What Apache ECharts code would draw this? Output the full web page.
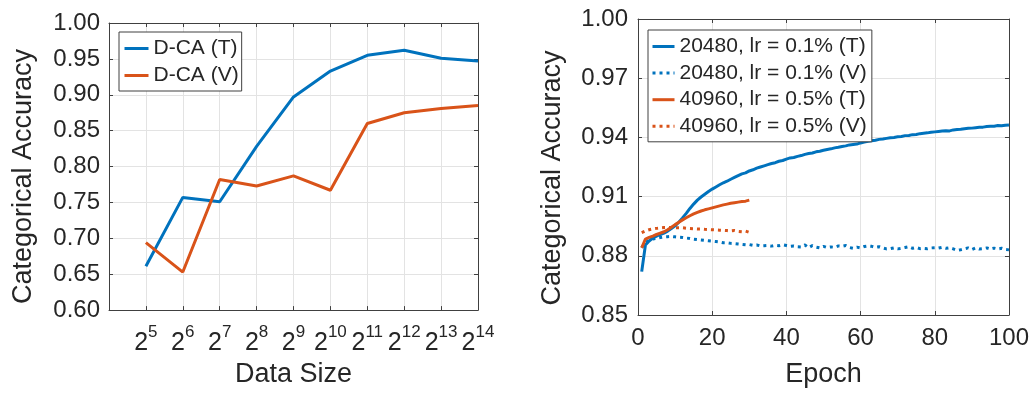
<!DOCTYPE html>
<html>
<head>
<meta charset="utf-8">
<script src="https://cdn.jsdelivr.net/npm/echarts@6/dist/echarts.min.js"></script>
<style>
html,body{margin:0;padding:0;background:#fff;}
#chart{width:1032px;height:393px;}
</style>
</head>
<body>
<div id="chart"></div>
<script>
// ---- Left panel data ----
const sizeExponents = [5, 6, 7, 8, 9, 10, 11, 12, 13, 14];
const dcaTrain = [0.661, 0.757, 0.751, 0.828, 0.897, 0.933, 0.955, 0.962, 0.951, 0.947];
const dcaValid = [0.694, 0.653, 0.782, 0.773, 0.787, 0.767, 0.860, 0.875, 0.881, 0.885];
const leftYTicks = [0.60, 0.65, 0.70, 0.75, 0.80, 0.85, 0.90, 0.95, 1.00];

// ---- Right panel data (epoch 1..N) ----
const run20480Train = [
  0.8720, 0.8855, 0.8875, 0.8890, 0.8900, 0.8908, 0.8915, 0.8925, 0.8938, 0.8952,
  0.8970, 0.8992, 0.9015, 0.9040, 0.9062, 0.9082, 0.9098, 0.9112, 0.9126, 0.9138,
  0.9149, 0.9160, 0.9170, 0.9178, 0.9188, 0.9197, 0.9206, 0.9215, 0.9220, 0.9230,
  0.9236, 0.9244, 0.9250, 0.9256, 0.9262, 0.9268, 0.9272, 0.9279, 0.9283, 0.9290,
  0.9296, 0.9298, 0.9304, 0.9308, 0.9314, 0.9318, 0.9321, 0.9327, 0.9330, 0.9335,
  0.9339, 0.9342, 0.9347, 0.9350, 0.9354, 0.9357, 0.9362, 0.9364, 0.9366, 0.9372,
  0.9376, 0.9380, 0.9383, 0.9386, 0.9390, 0.9392, 0.9395, 0.9398, 0.9400, 0.9403,
  0.9405, 0.9409, 0.9410, 0.9414, 0.9415, 0.9419, 0.9421, 0.9423, 0.9426, 0.9428,
  0.9430, 0.9432, 0.9434, 0.9433, 0.9438, 0.9440, 0.9441, 0.9444, 0.9446, 0.9447,
  0.9449, 0.9451, 0.9452, 0.9455, 0.9456, 0.9457, 0.9460, 0.9459, 0.9462, 0.9463
];
const run20480Valid = [
  0.8842, 0.8868, 0.8878, 0.8885, 0.8889, 0.8893, 0.8896, 0.8897, 0.8898, 0.8896,
  0.8894, 0.8893, 0.8890, 0.8888, 0.8884, 0.8882, 0.8880, 0.8878, 0.8876, 0.8874,
  0.8872, 0.8870, 0.8866, 0.8866, 0.8863, 0.8862, 0.8860, 0.8858, 0.8856, 0.8857,
  0.8853, 0.8855, 0.8850, 0.8851, 0.8852, 0.8849, 0.8853, 0.8851, 0.8856, 0.8852,
  0.8848, 0.8850, 0.8846, 0.8845, 0.8855, 0.8841, 0.8852, 0.8844, 0.8840, 0.8848,
  0.8842, 0.8845, 0.8843, 0.8850, 0.8848, 0.8852, 0.8842, 0.8838, 0.8844, 0.8840,
  0.8847, 0.8850, 0.8848, 0.8843, 0.8846, 0.8840, 0.8835, 0.8836, 0.8840, 0.8835,
  0.8838, 0.8842, 0.8846, 0.8838, 0.8842, 0.8836, 0.8838, 0.8836, 0.8840, 0.8841,
  0.8839, 0.8843, 0.8838, 0.8841, 0.8835, 0.8828, 0.8831, 0.8836, 0.8840, 0.8832,
  0.8840, 0.8834, 0.8836, 0.8840, 0.8834, 0.8839, 0.8835, 0.8838, 0.8832, 0.8830
];
const run40960Train = [
  0.8840, 0.8885, 0.8893, 0.8900, 0.8908, 0.8915, 0.8922, 0.8932, 0.8945, 0.8958,
  0.8970, 0.8982, 0.8993, 0.9003, 0.9012, 0.9020, 0.9027, 0.9033, 0.9038, 0.9043,
  0.9048, 0.9053, 0.9058, 0.9062, 0.9066, 0.9069, 0.9072, 0.9075, 0.9077, 0.9082
];
const run40960Valid = [
  0.8918, 0.8926, 0.8932, 0.8936, 0.8939, 0.8941, 0.8943, 0.8944, 0.8944, 0.8943,
  0.8942, 0.8942, 0.8940, 0.8938, 0.8937, 0.8936, 0.8936, 0.8934, 0.8933, 0.8932,
  0.8931, 0.8930, 0.8929, 0.8928, 0.8926, 0.8928, 0.8924, 0.8922, 0.8925, 0.8919
];

const leftNames = ['D-CA (T)', 'D-CA (V)'];
const rightNames = ['20480, lr = 0.1% (T)', '20480, lr = 0.1% (V)', '40960, lr = 0.5% (T)', '40960, lr = 0.5% (V)'];

const BLUE = '#0072BD', ORANGE = '#D95319';
const TXT = '#262626', AX = '#404040', GRID = '#e3e3e3';
const FONT = 'Liberation Sans';
const LW = 3;

const chart = echarts.init(document.getElementById('chart'), null, {renderer: 'canvas'});

function frameAxis(gridIndex, position, min, max, interval) {
  return {
    type: 'value', gridIndex, position, min, max, interval,
    axisLine: {show: true, onZero: false, lineStyle: {color: AX, width: 1}},
    axisTick: {show: true, inside: true, length: 4, lineStyle: {color: AX}},
    axisLabel: {show: false},
    splitLine: {show: false}
  };
}

const withEpoch = arr => arr.map((v, i) => [i + 1, v]);

const option = {
  backgroundColor: '#fff',
  animation: false,
  textStyle: {fontFamily: FONT, color: TXT},
  grid: [
    {left: 109, top: 23, width: 369, height: 295, containLabel: false},
    {left: 638, top: 19, width: 371, height: 297.5, containLabel: false}
  ],
  legend: [
    {
      data: leftNames, orient: 'vertical', left: 119, top: 32,
      padding: [5, 3, 4, 4], itemGap: 4, itemWidth: 24, itemHeight: 14,
      backgroundColor: '#fff', borderColor: AX, borderWidth: 1,
      itemStyle: {opacity: 0}, lineStyle: {width: LW},
      textStyle: {fontFamily: FONT, fontSize: 21, color: TXT, lineHeight: 23}
    },
    {
      data: rightNames, orient: 'vertical', left: 648, top: 30,
      padding: [5, 5, 4, 3], itemGap: 3.6, itemWidth: 22, itemHeight: 14,
      backgroundColor: '#fff', borderColor: AX, borderWidth: 1,
      itemStyle: {opacity: 0}, lineStyle: {width: LW},
      textStyle: {fontFamily: FONT, fontSize: 21, color: TXT, lineHeight: 23}
    }
  ],
  xAxis: [
    {
      type: 'value', gridIndex: 0, position: 'bottom', min: 4, max: 14, interval: 1,
      name: 'Data Size', nameLocation: 'middle', nameGap: 49,
      nameTextStyle: {fontFamily: FONT, fontSize: 27, color: TXT},
      axisLine: {show: true, onZero: false, lineStyle: {color: AX, width: 1}},
      axisTick: {show: true, inside: true, length: 4, lineStyle: {color: AX}},
      splitLine: {show: true, lineStyle: {color: GRID, width: 1}},
      axisLabel: {
        margin: 14, showMinLabel: true, showMaxLabel: true,
        formatter: v => (sizeExponents.indexOf(v) >= 0 ? '{b|2}{s|' + v + '}' : ''),
        rich: {
          b: {fontFamily: FONT, fontSize: 25, color: TXT, lineHeight: 32, verticalAlign: 'bottom'},
          s: {fontFamily: FONT, fontSize: 17, color: TXT, lineHeight: 16, verticalAlign: 'top'}
        }
      }
    },
    frameAxis(0, 'top', 4, 14, 1),
    {
      type: 'value', gridIndex: 1, position: 'bottom', min: 0, max: 100, interval: 20,
      name: 'Epoch', nameLocation: 'middle', nameGap: 46,
      nameTextStyle: {fontFamily: FONT, fontSize: 27, color: TXT},
      axisLine: {show: true, onZero: false, lineStyle: {color: AX, width: 1}},
      axisTick: {show: true, inside: true, length: 4, lineStyle: {color: AX}},
      splitLine: {show: true, lineStyle: {color: GRID, width: 1}},
      axisLabel: {margin: 11, fontFamily: FONT, fontSize: 24, color: TXT, showMinLabel: true, showMaxLabel: true}
    },
    frameAxis(1, 'top', 0, 100, 20)
  ],
  yAxis: [
    {
      type: 'value', gridIndex: 0, position: 'left', min: 0.6, max: 1.0, interval: 0.05,
      name: 'Categorical Accuracy', nameLocation: 'middle', nameGap: 72,
      nameTextStyle: {fontFamily: FONT, fontSize: 27, color: TXT, padding: [0, 20, 0, 0]},
      axisLine: {show: true, onZero: false, lineStyle: {color: AX, width: 1}},
      axisTick: {show: true, inside: true, length: 4, lineStyle: {color: AX}},
      splitLine: {show: true, lineStyle: {color: GRID, width: 1}},
      axisLabel: {margin: 9, fontFamily: FONT, fontSize: 24, color: TXT, formatter: v => v.toFixed(2)}
    },
    frameAxis(0, 'right', 0.6, 1.0, 0.05),
    {
      type: 'value', gridIndex: 1, position: 'left', min: 0.85, max: 1.0, interval: 0.03,
      name: 'Categorical Accuracy', nameLocation: 'middle', nameGap: 72,
      nameTextStyle: {fontFamily: FONT, fontSize: 27, color: TXT, padding: [0, 22, 0, 0]},
      axisLine: {show: true, onZero: false, lineStyle: {color: AX, width: 1}},
      axisTick: {show: true, inside: true, length: 4, lineStyle: {color: AX}},
      splitLine: {show: true, lineStyle: {color: GRID, width: 1}},
      axisLabel: {margin: 10, fontFamily: FONT, fontSize: 24, color: TXT, formatter: v => v.toFixed(2)}
    },
    frameAxis(1, 'right', 0.85, 1.0, 0.03)
  ],
  series: [
    {
      name: leftNames[0], type: 'line', xAxisIndex: 0, yAxisIndex: 0, symbol: 'none',
      data: sizeExponents.map((e, i) => [e, dcaTrain[i]]),
      lineStyle: {color: BLUE, width: LW}, itemStyle: {color: BLUE}
    },
    {
      name: leftNames[1], type: 'line', xAxisIndex: 0, yAxisIndex: 0, symbol: 'none',
      data: sizeExponents.map((e, i) => [e, dcaValid[i]]),
      lineStyle: {color: ORANGE, width: LW}, itemStyle: {color: ORANGE}
    },
    {
      name: rightNames[0], type: 'line', xAxisIndex: 2, yAxisIndex: 2, symbol: 'none',
      data: withEpoch(run20480Train),
      lineStyle: {color: BLUE, width: LW}, itemStyle: {color: BLUE}, z: 3
    },
    {
      name: rightNames[1], type: 'line', xAxisIndex: 2, yAxisIndex: 2, symbol: 'none',
      data: withEpoch(run20480Valid),
      lineStyle: {color: BLUE, width: LW, type: [3, 4]}, itemStyle: {color: BLUE}, z: 2
    },
    {
      name: rightNames[2], type: 'line', xAxisIndex: 2, yAxisIndex: 2, symbol: 'none',
      data: withEpoch(run40960Train),
      lineStyle: {color: ORANGE, width: LW}, itemStyle: {color: ORANGE}, z: 4
    },
    {
      name: rightNames[3], type: 'line', xAxisIndex: 2, yAxisIndex: 2, symbol: 'none',
      data: withEpoch(run40960Valid),
      lineStyle: {color: ORANGE, width: LW, type: [3, 4]}, itemStyle: {color: ORANGE}, z: 2
    }
  ]
};
chart.setOption(option);
</script>
</body>
</html>
